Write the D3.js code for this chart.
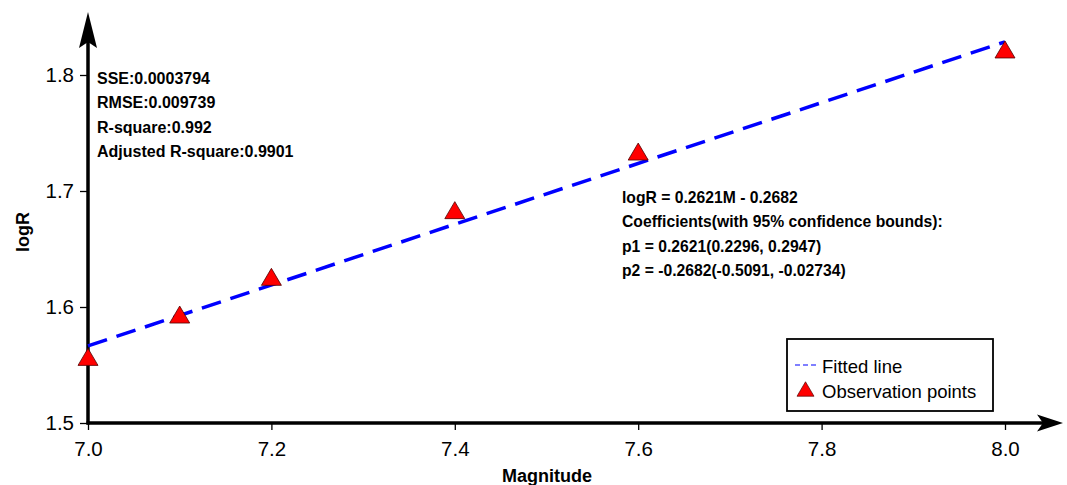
<!DOCTYPE html>
<html>
<head>
<meta charset="utf-8">
<script src="https://cdn.jsdelivr.net/npm/d3@7"></script>
<style>
  body { margin: 0; background: #fff; }
  svg { display: block; font-family: "Liberation Sans", Arial, sans-serif; }
</style>
</head>
<body>
<svg id="chart" width="1067" height="485"></svg>
<script>
// observed points
const magnitude = [7.0, 7.1, 7.2, 7.4, 7.6, 8.0];
const logR = [1.557, 1.5935, 1.626, 1.6835, 1.734, 1.822];

// fit: logR = p1*M + p2
const p1 = 0.2621;
const p2 = -0.2682;

const xTicks = [7.0, 7.2, 7.4, 7.6, 7.8, 8.0];
const yTicks = [1.5, 1.6, 1.7, 1.8];

const statsText = ["SSE:0.0003794", "RMSE:0.009739", "R-square:0.992", "Adjusted R-square:0.9901"];
const fitText = ["logR = 0.2621M - 0.2682", "Coefficients(with 95% confidence bounds):",
  "p1 = 0.2621(0.2296, 0.2947)", "p2 = -0.2682(-0.5091, -0.02734)"];
const legendLabels = ["Fitted line", "Observation points"];

const svg = d3.select("#chart");

const x = d3.scaleLinear().domain([7.0, 8.0]).range([88, 1005]);
const y = d3.scaleLinear().domain([1.5, 1.8]).range([423, 75]);

// axes (ticks + labels), domain drawn separately with arrows
const xAxis = svg.append("g")
  .attr("transform", "translate(0,423)")
  .call(d3.axisBottom(x).tickValues(xTicks).tickFormat(d3.format(".1f")).tickSize(7).tickPadding(11));
const yAxis = svg.append("g")
  .attr("transform", "translate(88,0)")
  .call(d3.axisLeft(y).tickValues(yTicks).tickFormat(d3.format(".1f")).tickSize(8).tickPadding(6));

[xAxis, yAxis].forEach(g => {
  g.select(".domain").remove();
  g.selectAll(".tick line").attr("stroke", "#000").attr("stroke-width", 1.3);
  g.selectAll(".tick text").attr("fill", "#000").style("font-size", "20.5px")
    .style("font-family", "'Liberation Sans', Arial, sans-serif");
});

// axis lines
svg.append("line").attr("x1", 88).attr("x2", 88).attr("y1", 424.5).attr("y2", 40)
  .attr("stroke", "#000").attr("stroke-width", 3.5);
svg.append("line").attr("x1", 86.5).attr("x2", 1045).attr("y1", 423).attr("y2", 423)
  .attr("stroke", "#000").attr("stroke-width", 3.5);

// arrowheads
svg.append("path")
  .attr("d", "M88,12 L97,48 L88,42 L79,48 Z")
  .attr("fill", "#000");
svg.append("path")
  .attr("d", "M1063,423 L1037,414.5 L1043,423 L1037,431.5 Z")
  .attr("fill", "#000");

// fitted line
const fitLine = d3.line().x(d => x(d)).y(d => y(p1 * d + p2));
svg.append("path")
  .datum([7.0, 8.0])
  .attr("d", fitLine)
  .attr("fill", "none")
  .attr("stroke", "#0000ff")
  .attr("stroke-width", 3.5)
  .attr("stroke-dasharray", "20,10");

// triangles
const tri = "M0,-8.5 L10,8.5 L-10,8.5 Z";
svg.append("g").selectAll("path")
  .data(magnitude)
  .join("path")
  .attr("d", tri)
  .attr("transform", (d, i) => `translate(${x(d)},${y(logR[i])})`)
  .attr("fill", "#ff0000")
  .attr("stroke", "#500000")
  .attr("stroke-width", 0.8);

// annotation text
svg.append("g").selectAll("text")
  .data(statsText)
  .join("text")
  .attr("x", 97)
  .attr("y", (d, i) => 84 + i * 24.3)
  .style("font-size", "16px")
  .style("font-weight", "bold")
  .text(d => d);

svg.append("g").selectAll("text")
  .data(fitText)
  .join("text")
  .attr("x", 622)
  .attr("y", (d, i) => 203 + i * 24.3)
  .style("font-size", "15.7px")
  .style("font-weight", "bold")
  .text(d => d);

// axis titles
svg.append("text")
  .attr("x", 547).attr("y", 482)
  .attr("text-anchor", "middle")
  .style("font-size", "18px").style("font-weight", "bold")
  .text("Magnitude");
svg.append("text")
  .attr("transform", "translate(29,232) rotate(-90)")
  .attr("text-anchor", "middle")
  .style("font-size", "18px").style("font-weight", "bold")
  .text("logR");

// legend
const legend = svg.append("g");
legend.append("rect")
  .attr("x", 787).attr("y", 339).attr("width", 206).attr("height", 72)
  .attr("fill", "#fff").attr("stroke", "#000").attr("stroke-width", 1.8);
legend.append("line")
  .attr("x1", 795).attr("x2", 816).attr("y1", 365).attr("y2", 365)
  .attr("stroke", "#5555ff").attr("stroke-width", 1.3).attr("stroke-dasharray", "5,3");
legend.append("path")
  .attr("d", tri)
  .attr("transform", "translate(805.5,389) scale(0.85)")
  .attr("fill", "#ff0000").attr("stroke", "#500000").attr("stroke-width", 0.8);
legend.selectAll("text.lab")
  .data(legendLabels)
  .join("text")
  .attr("class", "lab")
  .attr("x", 822)
  .attr("y", (d, i) => 373 + i * 25)
  .style("font-size", "18.5px")
  .text(d => d);
</script>
</body>
</html>
